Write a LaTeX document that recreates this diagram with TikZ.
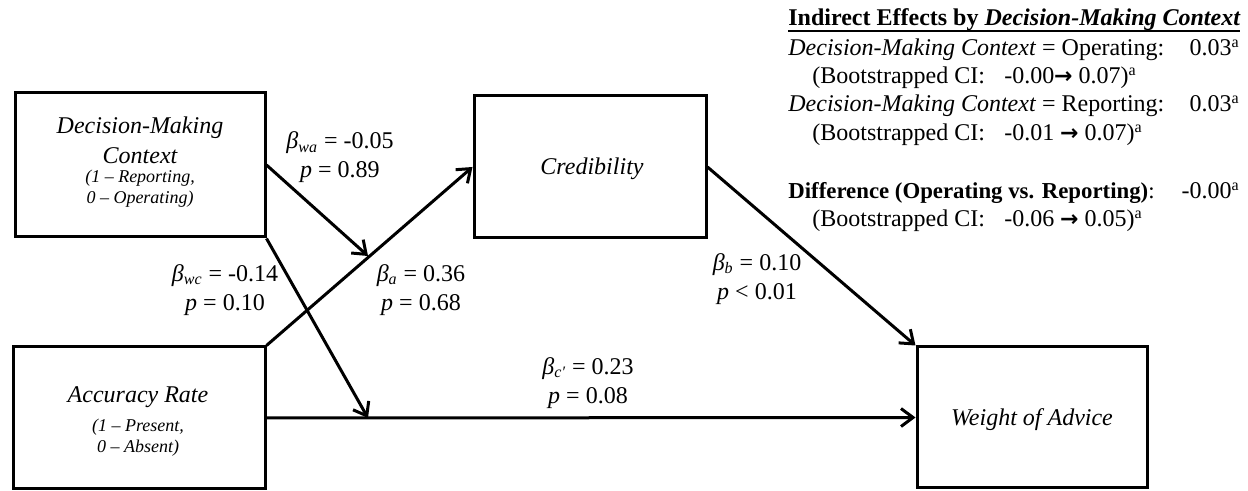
\documentclass[tikz,border=0pt]{standalone}
\usepackage{fontspec}
\setmainfont{Liberation Serif}
\newfontfamily\djv{DejaVu Sans}
\usetikzlibrary{arrows.meta}
\newcommand{\bsub}[1]{{\itshape β}\textsubscript{\itshape #1}}
\newcommand{\rarr}{{\djv\bfseries\fontsize{11}{12}\selectfont →}}
\begin{document}
\begin{tikzpicture}[x=0.5pt,y=-0.5pt,
  box/.style={draw,line width=1.5pt,inner sep=0pt},
  conn/.style={line width=1.5pt,-{Straight Barb[length=6pt,width=9pt]}},
  big/.style={inner sep=0pt,font=\fontsize{12}{14.5}\selectfont\itshape,text height=8.5pt,text depth=2.5pt},
  small/.style={inner sep=0pt,font=\fontsize{9}{11}\selectfont\itshape,text height=6.5pt,text depth=2pt},
  lab/.style={align=center,inner sep=0pt,font=\fontsize{12}{14.5}\selectfont},
  rt/.style={inner sep=0pt,font=\fontsize{12}{14}\selectfont,text height=8.5pt,text depth=2.5pt}]
\useasboundingbox (0,0) rectangle (1248,491);

% boxes
\node[box,minimum width=125pt,minimum height=72pt] (dmc) at (140,165) {};
\node[box,minimum width=116pt,minimum height=71pt] (cred) at (590,167) {};
\node[box,minimum width=126pt,minimum height=71pt] (acc) at (139,418) {};
\node[box,minimum width=115pt,minimum height=70.5pt] (woa) at (1032,417.5) {};

% box texts
\node[big] (t1) at (140,128) {Decision-Making};
\node[big] (t2) at (140,158) {Context};
\node[small] (t3) at (140,178) {(1 – Reporting,};
\node[small] (t4) at (140,199) {0 – Operating)};
\node[big] (t5) at (592,169) {Credibility};
\node[big] (t6) at (138,397) {Accuracy Rate};
\node[small] (t7) at (138,427) {(1 – Present,};
\node[small] (t8) at (138,448) {0 – Absent)};
\node[big] (t9) at (1032,420) {Weight of Advice};

% helper coordinates
\coordinate (am) at (368,256);
\coordinate (cm) at (368,418);

% connectors
\draw[conn] (acc.north east) -- (cred.west);
\draw[conn] (dmc.east) -- (am);
\draw[conn] (dmc.south east) -- (cm);
\draw[conn] (acc.east) -- (woa.west);
\draw[conn] (cred.east) -- (woa.north west);

% path labels
\node[lab] (lwa) at (340,157.5) {\bsub{wa} = -0.05\\{\itshape p} = 0.89};
\node[lab] (lwc) at (225,290) {\bsub{wc} = -0.14\\{\itshape p} = 0.10};
\node[lab] (la) at (421,290) {\bsub{a} = 0.36\\{\itshape p} = 0.68};
\node[lab] (lb) at (757,279) {\bsub{b} = 0.10\\{\itshape p} < 0.01};
\node[lab] (lc) at (588,383) {\bsub{c′} = 0.23\\{\itshape p} = 0.08};

% right block
\node[rt,anchor=west] (title) at (788,20) {\bfseries Indirect Effects by \itshape Decision-Making Context};
\draw[line width=0.8pt] ([yshift=-2.5pt]title.base west) -- ([yshift=-2.5pt]title.base east);
\node[rt,anchor=west] (r1) at (788,50) {\textit{Decision-Making Context} = Operating:};
\node[rt,anchor=east] (v1) at (1240,50) {0.03\textsuperscript{a}};
\node[rt,anchor=west] (r2) at (812,78) {(Bootstrapped CI:\hspace{0.8em}-0.00\rarr\ 0.07)\textsuperscript{a}};
\node[rt,anchor=west] (r3) at (788,106) {\textit{Decision-Making Context} = Reporting:};
\node[rt,anchor=east] (v3) at (1240,106) {0.03\textsuperscript{a}};
\node[rt,anchor=west] (r4) at (812,135) {(Bootstrapped CI:\hspace{0.8em}-0.01 \rarr\ 0.07)\textsuperscript{a}};
\node[rt,anchor=west,font=\fontsize{11.4}{14}\selectfont] (r5) at (788,193) {\textbf{Difference (Operating vs. Reporting)}:};
\node[rt,anchor=east] (v5) at (1240,193) {-0.00\textsuperscript{a}};
\node[rt,anchor=west] (r6) at (812,221) {(Bootstrapped CI:\hspace{0.8em}-0.06 \rarr\ 0.05)\textsuperscript{a}};
\end{tikzpicture}
\end{document}
